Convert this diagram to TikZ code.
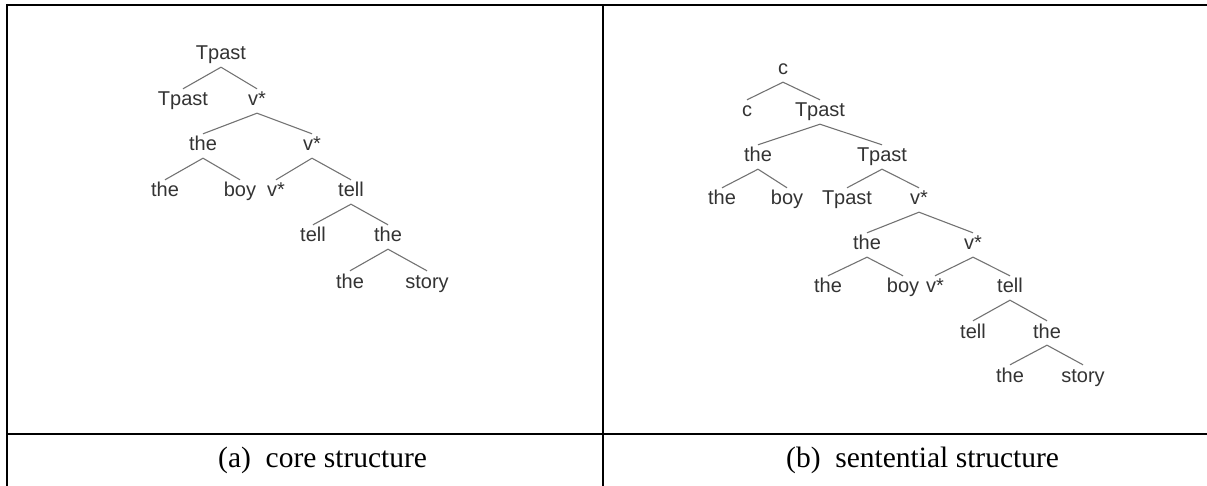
\documentclass[tikz,border=0pt]{standalone}
\usepackage{fontspec}
\setmainfont{Liberation Serif}
\newfontfamily\treefont{Liberation Sans}
\newfontfamily\capfont{Liberation Serif}
\begin{document}
\begin{tikzpicture}[x=1pt,y=-1pt,
  lab/.style={font=\treefont\fontsize{20}{24}\selectfont, text=black!80, inner xsep=0pt, inner ysep=2.5pt, text height=14.5pt, text depth=4.5pt},
  treeedge/.style={draw=black!55, line width=1.1pt},
  tablerule/.style={line width=2pt, black},
  captiontext/.style={font=\capfont\fontsize{29.5}{34}\selectfont, anchor=base west, inner sep=0pt}]
\useasboundingbox (0,0) rectangle (1207,486);
% table
\draw[tablerule] (6,5) -- (1207,5);
\draw[tablerule] (7,4) -- (7,486);
\draw[tablerule] (603,5) -- (603,486);
\draw[tablerule] (7,434) -- (1207,434);
% captions
\node[captiontext] (capa) at (218,467) {(a)\hspace{0.5em}core structure};
\node[captiontext] (capb) at (786,467) {(b)\hspace{0.5em}sentential structure};
% left tree
\node[lab] (a0) at (221,55) {Tpast};
\node[lab] (a1) at (183,101) {Tpast};
\node[lab] (a2) at (257,101) {v*};
\node[lab] (a3) at (203,146) {the};
\node[lab] (a4) at (312,146) {v*};
\node[lab] (a5) at (165,192) {the};
\node[lab] (a6) at (240,192) {boy};
\node[lab] (a7) at (276,192) {v*};
\node[lab] (a8) at (351,192) {tell};
\node[lab] (a9) at (313,237) {tell};
\node[lab] (a10) at (388,237) {the};
\node[lab] (a11) at (350,283) {the};
\node[lab] (a12) at (427,283) {story};
\foreach \p/\c in {a0/a1,a0/a2,a2/a3,a2/a4,a3/a5,a3/a6,a4/a7,a4/a8,a8/a9,a8/a10,a10/a11,a10/a12}
  \draw[treeedge] (\p.south) -- (\c.north);
% right tree
\node[lab] (b0) at (783,70) {c};
\node[lab] (b1) at (747,112) {c};
\node[lab] (b2) at (820,112) {Tpast};
\node[lab] (b3) at (758,157) {the};
\node[lab] (b4) at (882,157) {Tpast};
\node[lab] (b5) at (722,200) {the};
\node[lab] (b6) at (787,200) {boy};
\node[lab] (b7) at (847,200) {Tpast};
\node[lab] (b8) at (919,200) {v*};
\node[lab] (b9) at (867,245) {the};
\node[lab] (b10) at (973,245) {v*};
\node[lab] (b11) at (828,288) {the};
\node[lab] (b12) at (903,288) {boy};
\node[lab] (b13) at (935,288) {v*};
\node[lab] (b14) at (1010,288) {tell};
\node[lab] (b15) at (973,333) {tell};
\node[lab] (b16) at (1047,333) {the};
\node[lab] (b17) at (1010,377) {the};
\node[lab] (b18) at (1083,377) {story};
\foreach \p/\c in {b0/b1,b0/b2,b2/b3,b2/b4,b3/b5,b3/b6,b4/b7,b4/b8,b8/b9,b8/b10,b9/b11,b9/b12,b10/b13,b10/b14,b14/b15,b14/b16,b16/b17,b16/b18}
  \draw[treeedge] (\p.south) -- (\c.north);
\end{tikzpicture}
\end{document}
